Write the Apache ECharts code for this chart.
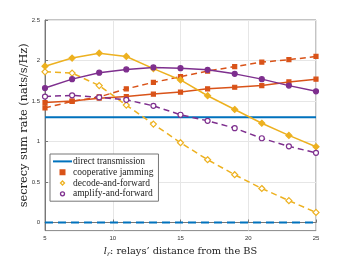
<!DOCTYPE html>
<html><head><meta charset="utf-8">
<script src="https://cdn.jsdelivr.net/npm/echarts@6/dist/echarts.min.js"></script>
<style>html,body{margin:0;padding:0;background:#fff}#c{width:350px;height:263px}</style>
</head><body><div id="c"></div>
<script>
const distances = [5,7,9,11,13,15,17,19,21,23,25];
const directSolid = [1.30,1.30,1.30,1.30,1.30,1.30,1.30,1.30,1.30,1.30,1.30];
const directDashed = [0,0,0,0,0,0,0,0,0,0,0];
const cjSolid = [1.48,1.50,1.535,1.555,1.585,1.61,1.65,1.67,1.69,1.735,1.77];
const cjDashed = [1.415,1.495,1.55,1.65,1.73,1.80,1.87,1.925,1.98,2.01,2.05];
const dfSolid = [1.93,2.03,2.09,2.05,1.90,1.76,1.565,1.395,1.225,1.075,0.935];
const dfDashed = [1.86,1.845,1.69,1.45,1.215,0.985,0.775,0.59,0.42,0.27,0.125];
const afSolid = [1.66,1.77,1.85,1.89,1.915,1.905,1.885,1.835,1.77,1.69,1.62];
const afDashed = [1.555,1.57,1.545,1.515,1.44,1.33,1.255,1.165,1.04,0.94,0.86];
const yTicks = [0,0.5,1,1.5,2,2.5];
const xTicks = [5,10,15,20,25];

const BLUE='#0072BD', ORANGE='#D95319', YELLOW='#EDB120', PURPLE='#7E2F8E';
const pts = a => distances.map((x,i)=>[x,a[i]]);

function mk(name, data, color, dashed, symbol, size, filled){
  return {
    name, type:'line', data: pts(data),
    symbol: symbol, symbolSize: size, showSymbol: symbol!=='none',
    lineStyle:{color, width:1.5, type: dashed?[6,4]:'solid'},
    itemStyle:{color: filled?color:'#fff', borderColor:color, borderWidth:1.2},
    emphasis:{disabled:true}, animation:false, z: 3
  };
}
const series = [
  Object.assign(mk('direct transmission', directSolid, BLUE, false, 'none', 0, true), {lineStyle:{color:BLUE,width:2}}),
  Object.assign(mk('direct transmission', directDashed, BLUE, true, 'none', 0, true), {lineStyle:{color:BLUE,width:2,type:[8,5]}}),
  mk('cooperative jamming', cjSolid, ORANGE, false, 'rect', 4, true),
  mk('cooperative jamming', cjDashed, ORANGE, true, 'rect', 4, true),
  mk('decode-and-forward', dfSolid, YELLOW, false, 'diamond', 6, true),
  mk('decode-and-forward', dfDashed, YELLOW, true, 'diamond', 6, false),
  mk('amplify-and-forward', afSolid, PURPLE, false, 'circle', 5, true),
  mk('amplify-and-forward', afDashed, PURPLE, true, 'circle', 5, false)
];

const chart = echarts.init(document.getElementById('c'), null, {renderer:'canvas'});
chart.setOption({
  animation:false,
  grid:{left:45, top:20, width:271, height:214, show:true, borderColor:'#888', borderWidth:1},
  legend:{
    orient:'vertical', left:50, top:154, padding:[2,5,2,2], itemGap:0,
    itemWidth:19, itemHeight:5,
    backgroundColor:'#fff', borderColor:'#777', borderWidth:1,
    textStyle:{fontFamily:'Liberation Serif', fontSize:9.5, lineHeight:10.8, color:'#222', padding:[0,0,0,-4]},
    data:[
      {name:'direct transmission', itemStyle:{opacity:0}, lineStyle:{color:BLUE, width:2, type:'solid'}},
      {name:'cooperative jamming', lineStyle:{opacity:0}, itemStyle:{color:ORANGE, borderColor:ORANGE}},
      {name:'decode-and-forward', lineStyle:{opacity:0}, itemStyle:{color:'#fff', borderColor:YELLOW, borderWidth:1.3}},
      {name:'amplify-and-forward', lineStyle:{opacity:0}, itemStyle:{color:'#fff', borderColor:PURPLE, borderWidth:1.3}}
    ]
  },
  xAxis:{
    type:'value', min:5, max:25, interval:5,
    name:'{i|l}{s|r}: relays\u2019 distance from the BS', nameLocation:'middle', nameGap:14,
    nameTextStyle:{fontFamily:'DejaVu Serif', fontSize:9.8, color:'#222',
      rich:{i:{fontFamily:'DejaVu Serif', fontStyle:'italic', fontSize:9.8, color:'#222'},
            s:{fontFamily:'DejaVu Serif', fontStyle:'italic', fontSize:6.5, color:'#222', verticalAlign:'bottom', padding:[6,0,0,0]}}},
    axisLine:{lineStyle:{color:'#777'}},
    axisTick:{inside:true, length:3, lineStyle:{color:'#777'}},
    axisLabel:{fontSize:6, color:'#333', margin:5, fontFamily:'Liberation Sans', showMinLabel:true, showMaxLabel:true},
    splitLine:{show:true, lineStyle:{color:'#e6e6e6'}}
  },
  yAxis:{
    type:'value', min:-0.1, max:2.5,
    name:'secrecy sum rate (nats/s/Hz)', nameLocation:'middle', nameGap:15, nameMoveOverlap:false,
    nameTextStyle:{fontFamily:'DejaVu Serif', fontSize:11.3, color:'#222'},
    axisLine:{lineStyle:{color:'#777'}},
    axisTick:{inside:true, length:3, lineStyle:{color:'#777'}, customValues:yTicks},
    axisLabel:{fontSize:6, color:'#333', margin:5, fontFamily:'Liberation Sans', customValues:yTicks},
    splitLine:{show:true, lineStyle:{color:'#e6e6e6'}}
  },
  series
});
</script></body></html>
